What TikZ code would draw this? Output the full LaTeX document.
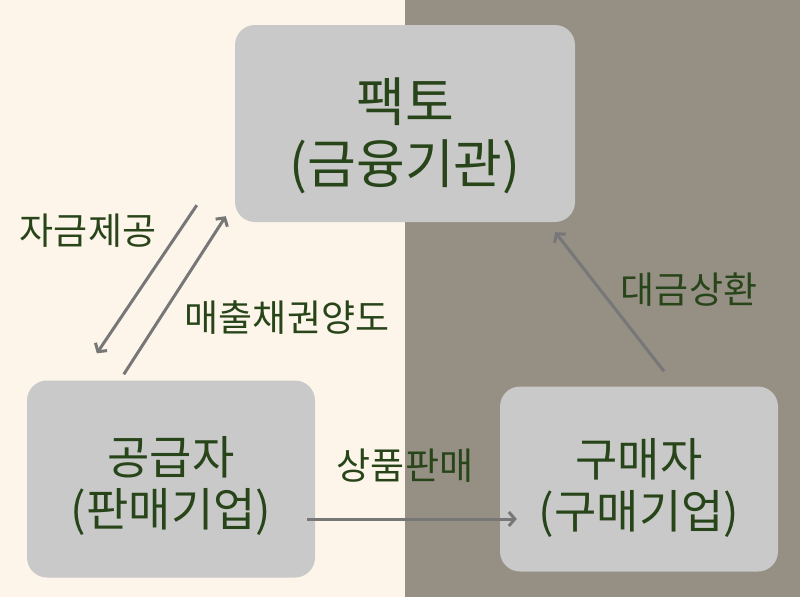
\documentclass[tikz,border=0pt]{standalone}
\usepackage{fontspec}
\setmainfont{Noto Sans CJK KR}
\usetikzlibrary{arrows.meta}
\definecolor{cream}{HTML}{FDF5E9}
\definecolor{stone}{HTML}{958F84}
\definecolor{boxgray}{HTML}{C9C9C9}
\definecolor{arrowgray}{HTML}{777777}
\definecolor{leaf}{HTML}{28451A}
\begin{document}
\begin{tikzpicture}[x=1pt,y=-1pt,
        box/.style={
          fill=boxgray, rounded corners=20pt, inner sep=0pt
        },
        boxtext/.style={text=leaf, align=center, inner sep=0pt},
        flow/.style={
          draw=arrowgray, line width=3pt, -{Straight Barb[length=6pt,width=14pt]}
        },
        tag/.style={text=leaf, font=\fontsize{37}{40}\selectfont}
      ]
      % two-tone background
      \fill [cream] (0,0) rectangle (405,597);
      \fill [stone] (405,0) rectangle (800,597);
      \node [box, minimum width=340pt, minimum height=197pt] (factor) at (405,123.5) {};
      \node [box, minimum width=288pt, minimum height=197pt] (seller) at (171,479) {};
      \node [box, minimum width=278pt, minimum height=185pt] (buyer) at (639,479) {};
      \node [boxtext, font=\fontsize{53}{62}\selectfont] (factorname)
        at ([yshift=-12pt]factor.center) {팩토\\(금융기관)};
      \node [boxtext, font=\fontsize{46}{52}\selectfont] (sellername)
        at ([yshift=-7pt]seller.center) {공급자\\(판매기업)};
      \node [boxtext, font=\fontsize{46}{52}\selectfont] (buyername)
        at ([yshift=-9pt]buyer.center) {구매자\\(구매기업)};
      \draw [flow] ([xshift=-38pt,yshift=17pt]factor.south west) -- ([xshift=70pt,yshift=27pt]seller.north west);
      \draw [flow] ([xshift=97pt,yshift=6pt]seller.north west) -- ([xshift=-9pt,yshift=6pt]factor.south west);
      \draw [flow] ([xshift=-8pt,yshift=-40pt]seller.east) -- ([xshift=17pt,yshift=-40pt]buyer.west);
      \draw [flow] ([xshift=25pt,yshift=15pt]buyer.north) -- ([xshift=-20pt,yshift=-10pt]factor.south east);
      \node [tag] (fund) at (88,231) {자금제공};
      \node [tag] (assign) at (287,318) {매출채권양도};
      \node [tag] (sale) at (405,466) {상품판매};
      \node [tag] (repay) at (689,290) {대금상환};
    \end{tikzpicture}
\end{document}
